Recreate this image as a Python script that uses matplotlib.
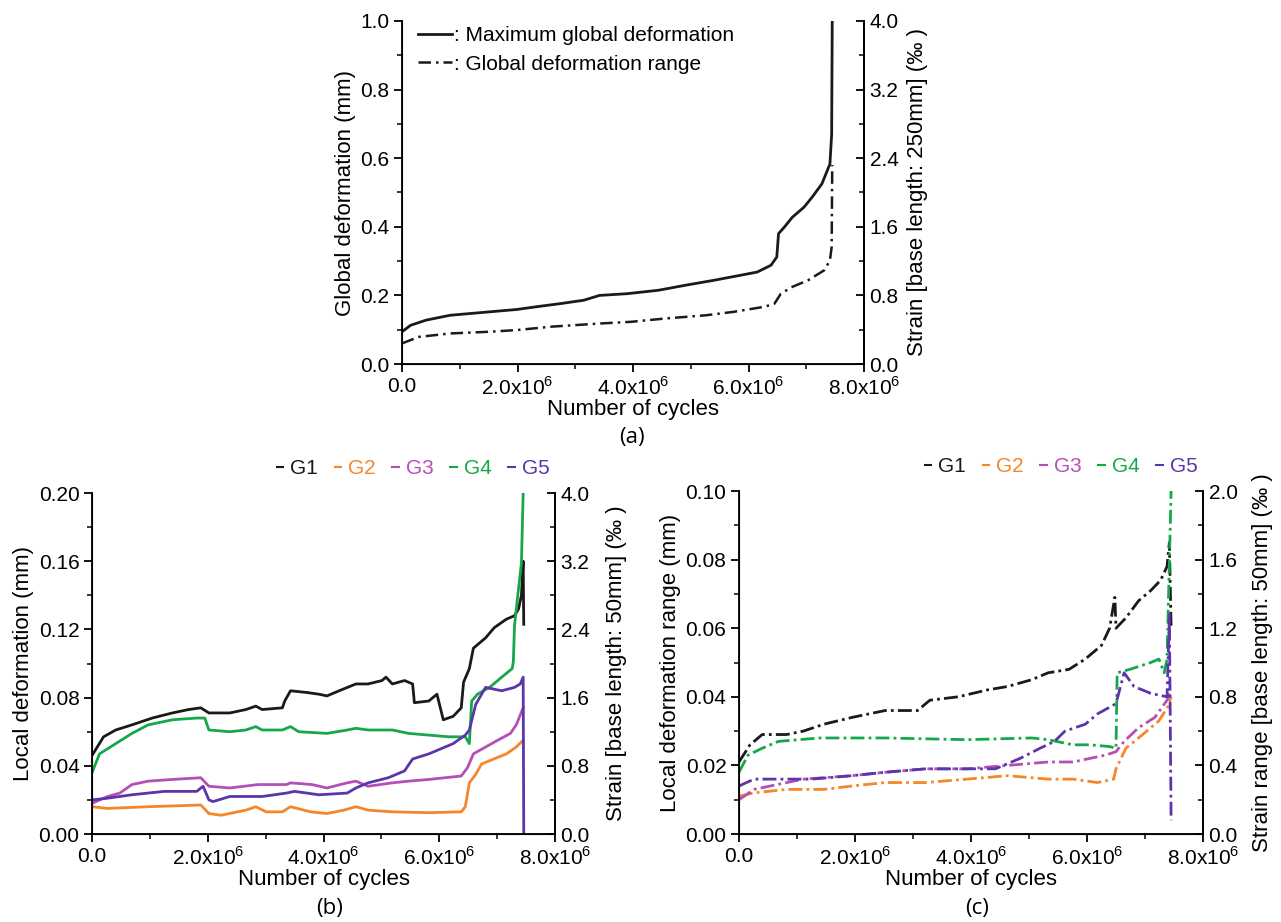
import numpy as np
import matplotlib
matplotlib.use('Agg')
from matplotlib import pyplot as plt
from matplotlib.ticker import MultipleLocator, FuncFormatter

plt.rcParams['font.family'] = ['Liberation Sans', 'DejaVu Sans']
plt.rcParams['mathtext.fontset'] = 'custom'
plt.rcParams['mathtext.rm'] = 'Liberation Sans'

# ---- data (cycles in millions) ----
# (a) global deformation
a_max_x = [0, 0.15, 0.42, 0.83, 1.17, 1.51, 1.99, 2.33, 2.74, 3.15, 3.42, 3.90, 4.44, 4.92,
           5.40, 5.87, 6.15, 6.39, 6.49, 6.52, 6.62, 6.76, 6.96, 7.10, 7.27, 7.41, 7.44, 7.45]
a_max_y = [0.094, 0.113, 0.128, 0.142, 0.147, 0.152, 0.159, 0.167, 0.176, 0.186, 0.200, 0.205,
           0.215, 0.230, 0.244, 0.259, 0.268, 0.288, 0.312, 0.380, 0.399, 0.428, 0.457, 0.486,
           0.525, 0.583, 0.670, 1.0]
a_rng_x = [0, 0.29, 0.83, 1.51, 1.99, 2.60, 3.42, 3.97, 4.58, 5.26, 5.74, 6.28, 6.45, 6.56,
           6.76, 7.03, 7.31, 7.41, 7.44, 7.45]
a_rng_y = [0.060, 0.079, 0.089, 0.094, 0.099, 0.109, 0.118, 0.123, 0.133, 0.142, 0.152, 0.167,
           0.176, 0.205, 0.225, 0.244, 0.273, 0.302, 0.341, 0.58]

# (b) local deformation
b_g1_x = [0, 0.2, 0.41, 0.69, 1.04, 1.39, 1.67, 1.88, 2.02, 2.38, 2.66, 2.83, 2.94, 3.29, 3.33,
          3.43, 3.71, 3.92, 4.06, 4.27, 4.56, 4.77, 5.01, 5.08, 5.19, 5.40, 5.54, 5.57, 5.82,
          5.96, 6.07, 6.24, 6.38, 6.42, 6.52, 6.59, 6.80, 6.95, 7.16, 7.30, 7.37, 7.42, 7.45, 7.46]
b_g1_y = [0.046, 0.057, 0.061, 0.064, 0.068, 0.071, 0.073, 0.074, 0.071, 0.071, 0.073, 0.075,
          0.073, 0.074, 0.078, 0.084, 0.083, 0.082, 0.081, 0.084, 0.088, 0.088, 0.090, 0.092,
          0.088, 0.090, 0.088, 0.077, 0.078, 0.082, 0.067, 0.069, 0.074, 0.089, 0.097, 0.109,
          0.115, 0.121, 0.126, 0.128, 0.132, 0.140, 0.160, 0.123]
b_g2_x = [0, 0.27, 0.97, 1.88, 2.02, 2.23, 2.66, 2.83, 3.01, 3.29, 3.43, 3.78, 4.06, 4.35,
          4.56, 4.77, 5.19, 5.82, 6.38, 6.45, 6.52, 6.63, 6.73, 6.87, 7.16, 7.33, 7.45]
b_g2_y = [0.016, 0.015, 0.016, 0.017, 0.012, 0.011, 0.014, 0.016, 0.013, 0.013, 0.016, 0.013,
          0.012, 0.014, 0.016, 0.014, 0.013, 0.0125, 0.013, 0.016, 0.030, 0.035, 0.041, 0.043,
          0.047, 0.051, 0.055]
b_g3_x = [0, 0.27, 0.48, 0.69, 0.97, 1.39, 1.88, 2.02, 2.38, 2.87, 3.36, 3.43, 3.80, 4.06,
          4.41, 4.56, 4.77, 5.19, 5.47, 5.82, 6.10, 6.38, 6.49, 6.59, 6.80, 7.01, 7.23, 7.33, 7.45]
b_g3_y = [0.018, 0.022, 0.024, 0.029, 0.031, 0.032, 0.033, 0.028, 0.027, 0.029, 0.029, 0.030,
          0.029, 0.027, 0.030, 0.031, 0.028, 0.030, 0.031, 0.032, 0.033, 0.034, 0.039, 0.047,
          0.051, 0.055, 0.059, 0.064, 0.074]
b_g4_x = [0, 0.13, 0.41, 0.69, 0.97, 1.39, 1.81, 1.95, 2.02, 2.38, 2.66, 2.83, 2.94, 3.29,
          3.43, 3.57, 4.06, 4.41, 4.56, 4.77, 5.19, 5.47, 5.82, 6.17, 6.45, 6.52, 6.56, 6.66,
          6.87, 7.08, 7.26, 7.28, 7.30, 7.37, 7.42, 7.45]
b_g4_y = [0.036, 0.047, 0.053, 0.059, 0.064, 0.067, 0.068, 0.068, 0.061, 0.060, 0.061, 0.063,
          0.061, 0.061, 0.063, 0.060, 0.059, 0.061, 0.062, 0.061, 0.061, 0.059, 0.058, 0.057,
          0.057, 0.053, 0.078, 0.082, 0.086, 0.092, 0.097, 0.101, 0.122, 0.144, 0.159, 0.200]
b_g5_x = [0, 0.27, 0.69, 1.25, 1.81, 1.92, 2.02, 2.09, 2.38, 2.94, 3.36, 3.50, 3.92, 4.41,
          4.56, 4.77, 5.12, 5.40, 5.54, 5.82, 6.03, 6.24, 6.45, 6.52, 6.63, 6.80, 7.08, 7.30,
          7.40, 7.45, 7.46]
b_g5_y = [0.020, 0.021, 0.023, 0.025, 0.025, 0.028, 0.020, 0.019, 0.022, 0.022, 0.024, 0.025,
          0.023, 0.024, 0.027, 0.030, 0.033, 0.037, 0.044, 0.047, 0.050, 0.053, 0.058, 0.061,
          0.076, 0.086, 0.084, 0.086, 0.088, 0.092, 0.0]

# (c) local deformation range
c_g1_x = [0, 0.19, 0.40, 0.82, 1.11, 1.46, 1.95, 2.52, 3.08, 3.29, 3.78, 4.28, 4.63, 5.05,
          5.33, 5.69, 5.97, 6.25, 6.39, 6.48, 6.50, 6.67, 6.89, 7.10, 7.27, 7.38, 7.42, 7.45]
c_g1_y = [0.021, 0.026, 0.029, 0.029, 0.030, 0.032, 0.034, 0.036, 0.036, 0.039, 0.040, 0.042,
          0.043, 0.045, 0.047, 0.048, 0.051, 0.055, 0.060, 0.069, 0.060, 0.063, 0.068, 0.071,
          0.074, 0.078, 0.085, 0.060]
c_g2_x = [0, 0.26, 0.82, 1.46, 1.95, 2.52, 3.22, 3.93, 4.63, 5.33, 5.76, 6.18, 6.46, 6.50,
          6.67, 6.96, 7.24, 7.39, 7.45]
c_g2_y = [0.011, 0.012, 0.013, 0.013, 0.014, 0.015, 0.015, 0.016, 0.017, 0.016, 0.016, 0.015,
          0.016, 0.019, 0.025, 0.029, 0.033, 0.037, 0.040]
c_g3_x = [0, 0.26, 0.54, 1.11, 1.95, 2.52, 3.22, 3.93, 4.63, 5.33, 5.76, 6.32, 6.50, 6.64,
          6.89, 7.17, 7.38, 7.45]
c_g3_y = [0.010, 0.013, 0.014, 0.016, 0.017, 0.018, 0.019, 0.019, 0.020, 0.021, 0.021, 0.023,
          0.024, 0.027, 0.031, 0.034, 0.039, 0.042]
c_g4_x = [0, 0.155, 0.40, 0.68, 1.39, 2.52, 3.93, 5.05, 5.33, 5.76, 6.04, 6.39, 6.50, 6.52,
          6.74, 7.10, 7.24, 7.33, 7.38, 7.45]
c_g4_y = [0.018, 0.023, 0.025, 0.027, 0.028, 0.028, 0.0275, 0.028, 0.0275, 0.026, 0.026,
          0.0255, 0.025, 0.047, 0.048, 0.050, 0.051, 0.047, 0.051, 0.100]
c_g5_x = [0, 0.26, 0.75, 1.25, 1.95, 2.52, 3.22, 3.93, 4.42, 4.84, 5.19, 5.44, 5.62, 5.97,
          6.18, 6.50, 6.64, 6.81, 7.10, 7.38, 7.42, 7.45]
c_g5_y = [0.014, 0.016, 0.016, 0.016, 0.017, 0.018, 0.019, 0.019, 0.019, 0.022, 0.025, 0.027,
          0.030, 0.032, 0.035, 0.038, 0.047, 0.043, 0.041, 0.040, 0.064, 0.004]

g_labels = ['G1', 'G2', 'G3', 'G4', 'G5']
g_colors = ['#1a1a1a', '#f5862a', '#b44fb8', '#15a84a', '#5b35aa']

xticks = [0, 2e6, 4e6, 6e6, 8e6]
xticklabels = ['0.0', r'2.0x10$^{6}$', r'4.0x10$^{6}$', r'6.0x10$^{6}$', r'8.0x10$^{6}$']

FS = 15     # tick labels / legend
LFS = 16    # axis labels
M = 1e6


def style_axes(ax, ymax, ystep, yfmt, rmax, rstep):
    ax.set_xlim(0, 8e6)
    ax.set_ylim(0, ymax)
    ax.spines['top'].set_visible(False)
    for s in ['left', 'bottom', 'right']:
        ax.spines[s].set_linewidth(1.3)
    ax.set_xticks(xticks)
    ax.set_xticklabels(xticklabels)
    ax.xaxis.set_minor_locator(MultipleLocator(1e6))
    ax.yaxis.set_major_locator(MultipleLocator(ystep))
    ax.yaxis.set_minor_locator(MultipleLocator(ystep / 2))
    ax.yaxis.set_major_formatter(FuncFormatter(lambda v, p: yfmt % v))
    ax.tick_params(which='major', direction='out', length=6, width=1.3, labelsize=FS, pad=3)
    ax.tick_params(which='minor', direction='out', length=3.5, width=1.1)
    ax.set_xlabel('Number of cycles', fontsize=LFS, labelpad=0)
    rax = ax.twinx()
    rax.set_ylim(0, rmax)
    rax.spines['top'].set_visible(False)
    rax.spines['right'].set_linewidth(1.3)
    rax.yaxis.set_major_locator(MultipleLocator(rstep))
    rax.yaxis.set_minor_locator(MultipleLocator(rstep / 2))
    rax.yaxis.set_major_formatter(FuncFormatter(lambda v, p: '%.1f' % v))
    rax.tick_params(which='major', direction='in', length=6, width=1.3, labelsize=FS, pad=4)
    rax.tick_params(which='minor', direction='in', length=3.5, width=1.1)
    return rax


def g_legend(ax):
    leg = ax.legend(loc='lower right', bbox_to_anchor=(1.02, 1.0), ncol=5, frameon=False,
                    fontsize=FS, handlelength=0.3, handletextpad=0.35, columnspacing=0.8,
                    labelcolor='linecolor', borderpad=0, borderaxespad=0.7)
    for h in leg.get_lines():
        h.set_linestyle('-')
        h.set_linewidth(1.5)
    return leg


fig = plt.figure(figsize=(12.81, 9.22), dpi=100)

# ---- (a) ----
ax_a = fig.add_axes([402 / 1281, 1 - 364 / 922, 462 / 1281, 343 / 922])
ax_a.plot(np.array(a_max_x) * M, a_max_y, color='#1a1a1a', lw=2.0,
          label=': Maximum global deformation')
ax_a.plot(np.array(a_rng_x) * M, a_rng_y, color='#1a1a1a', lw=1.8,
          ls=(0, (5, 2, 1, 2)), label=': Global deformation range')
rax = style_axes(ax_a, 1.0, 0.2, '%.1f', 4.0, 0.8)
ax_a.set_ylabel('Global deformation (mm)', fontsize=LFS, labelpad=3)
rax.set_ylabel('Strain [base length: 250mm] (‰ )', fontsize=LFS, labelpad=6)
ax_a.legend(loc='upper left', bbox_to_anchor=(0.035, 0.985), frameon=False, fontsize=FS,
            handlelength=1.6, handletextpad=0.1, labelspacing=0.45,
            borderpad=0, borderaxespad=0)

# ---- (b) ----
ax_b = fig.add_axes([92 / 1281, 1 - 834 / 922, 463 / 1281, 341 / 922])
b_x = [b_g1_x, b_g2_x, b_g3_x, b_g4_x, b_g5_x]
b_y = [b_g1_y, b_g2_y, b_g3_y, b_g4_y, b_g5_y]
for xs, ys, lab, col in zip(b_x, b_y, g_labels, g_colors):
    ax_b.plot(np.array(xs) * M, ys, color=col, lw=2.0, label=lab)
rax = style_axes(ax_b, 0.2, 0.04, '%.2f', 4.0, 0.8)
ax_b.set_ylabel('Local deformation (mm)', fontsize=LFS, labelpad=3)
rax.set_ylabel('Strain [base length: 50mm] (‰ )', fontsize=LFS, labelpad=12)
g_legend(ax_b)

# ---- (c) ----
ax_c = fig.add_axes([739 / 1281, 1 - 834 / 922, 464 / 1281, 343 / 922])
c_x = [c_g1_x, c_g2_x, c_g3_x, c_g4_x, c_g5_x]
c_y = [c_g1_y, c_g2_y, c_g3_y, c_g4_y, c_g5_y]
for xs, ys, lab, col in zip(c_x, c_y, g_labels, g_colors):
    ax_c.plot(np.array(xs) * M, ys, color=col, lw=2.0, ls=(0, (5, 1.5, 1, 1.5)), label=lab)
rax = style_axes(ax_c, 0.1, 0.02, '%.2f', 2.0, 0.4)
ax_c.set_ylabel('Local deformation range (mm)', fontsize=LFS, labelpad=3)
rax.set_ylabel('Strain range [base length: 50mm] (‰ )', fontsize=LFS, labelpad=10)
g_legend(ax_c)

# captions
for cx, cy, txt in [(632, 437, '(a)'), (330, 908, '(b)'), (977, 908, '(c)')]:
    fig.text(cx / 1281, 1 - cy / 922, txt, fontsize=16, family='Open Sans',
             ha='center', va='center')

fig.savefig('out.png', dpi=100)
